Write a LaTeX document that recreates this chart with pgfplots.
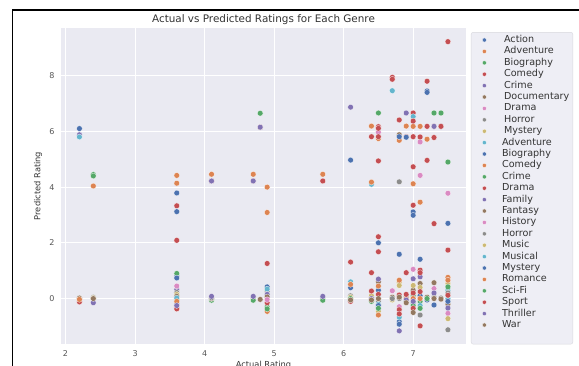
\documentclass[border=0pt]{standalone}
\usepackage{pgfplots}
\pgfplotsset{compat=1.18}
\usepackage{fontspec}
\setmainfont{DejaVu Sans}
\definecolor{c0}{HTML}{4C72B0}
\definecolor{c1}{HTML}{DD8452}
\definecolor{c2}{HTML}{55A868}
\definecolor{c3}{HTML}{C44E52}
\definecolor{c4}{HTML}{8172B3}
\definecolor{c5}{HTML}{937860}
\definecolor{c6}{HTML}{DA8BC3}
\definecolor{c7}{HTML}{8C8C8C}
\definecolor{c8}{HTML}{CCB974}
\definecolor{c9}{HTML}{64B5CD}
\definecolor{axbg}{HTML}{EAEAF2}
\definecolor{legfill}{HTML}{EEEEF5}
\definecolor{legedge}{HTML}{D8D8DE}
\definecolor{tickc}{HTML}{555555}
\definecolor{txtc}{HTML}{333333}
\pgfplotsset{gs/.style={only marks, mark=*, mark size=2.9pt, color=#1, mark options={draw=white, line width=0.25pt, fill=#1}}}
\newcommand{\legfont}{\fontsize{9.6}{9.6}\selectfont}
\begin{document}
\begin{tikzpicture}
\useasboundingbox (0pt,0pt) rectangle (579pt,365pt);
\begin{axis}[
  at={(61pt,21pt)}, anchor=south west,
  scale only axis, width=405pt, height=316pt,
  xmin=1.935, xmax=7.76, ymin=-1.63, ymax=9.71,
  xtick={2,3,4,5,6,7}, ytick={0,2,4,6,8},
  grid=major, grid style={white, line width=0.9pt},
  axis background/.style={fill=axbg},
  axis line style={draw=none}, tick style={draw=none},
  /pgf/number format/assume math mode=true,
  ticklabel style={font=\fontsize{8}{8}\selectfont, text=tickc},
  xticklabel style={yshift=-3pt},
  yticklabel style={xshift=-3pt},
  title={Actual vs Predicted Ratings for Each Genre},
  title style={at={(0.5,1)}, anchor=base, yshift=0pt, font=\fontsize{10.4}{10.4}\selectfont, text=txtc},
  xlabel={Actual Rating},
  xlabel style={at={(axis description cs:0.5,0)}, anchor=north, yshift=-13.5pt, font=\fontsize{8.3}{8.3}\selectfont, text=txtc},
  ylabel={Predicted Rating},
  ylabel style={at={(axis description cs:-0.0568,0.5)}, anchor=center, font=\fontsize{8.3}{8.3}\selectfont, text=txtc},
  legend style={at={(axis description cs:1.0123,0.987)}, anchor=north west,
    draw=legedge, fill=legfill, rounded corners=2pt,
    font=\legfont, text=txtc,
    row sep=0pt, inner xsep=2pt, inner ysep=2pt,
    nodes={font=\legfont, text height=7pt, text depth=2pt, inner ysep=1.2pt, inner xsep=1.5pt}},
  legend cell align=left,
  legend image code/.code={\path (-11pt,0pt) (16pt,0pt); \draw[#1, mark size=2.1pt] plot coordinates {(0pt,0pt)};},
]
% Action
\addplot[gs=c0] coordinates {(2.2,6.10)(3.6,3.79)(3.6,0.81)(4.9,0.42)(6.1,4.97)(6.5,2.00)(6.8,1.59)(7.0,3.11)(7.2,7.45)(7.5,2.70)};
\addlegendentry{\hspace*{2pt}Action}
% Adventure
\addplot[gs=c1] coordinates {(2.4,4.04)(3.6,4.42)(4.1,4.46)(4.7,4.46)(4.9,4.00)(5.7,4.46)(6.4,6.19)(6.9,6.19)(7.0,6.18)(7.1,6.18)};
\addlegendentry{\hspace*{2pt}Adventure}
% Biography
\addplot[gs=c2] coordinates {(2.4,4.45)(3.6,0.90)(4.8,6.65)(6.5,6.66)(7.3,6.66)(7.4,6.66)(7.5,4.90)(4.1,-0.06)};
\addlegendentry{\hspace*{2pt}Biography}
% Comedy
\addplot[gs=c3] coordinates {(2.2,-0.12)(3.6,3.33)(4.1,4.22)(4.7,4.22)(4.8,6.15)(4.9,1.26)(5.7,4.22)(6.1,1.31)(6.4,5.81)(6.5,6.17)(6.7,7.94)(6.8,6.41)(7.0,6.66)(7.2,7.80)(7.5,9.22)(6.9,5.81)(7.3,6.18)};
\addlegendentry{\hspace*{2pt}Comedy}
% Crime
\addplot[gs=c4] coordinates {(2.2,5.88)(4.1,4.22)(4.7,4.22)(4.8,6.15)(6.1,6.87)(6.9,6.66)(7.3,6.18)(3.6,0.32)};
\addlegendentry{\hspace*{2pt}Crime}
% Documentary
\addplot[gs=c5] coordinates {(2.2,0.02)(4.1,0.0)(4.8,-0.03)(6.5,0.6)(6.8,5.88)(7.0,0.3)(7.3,0.57)(7.5,-0.2)};
\addlegendentry{\hspace*{2pt}Documentary}
% Drama
\addplot[gs=c6] coordinates {(3.6,0.45)(6.5,5.97)(7.0,1.05)(7.1,5.62)(7.5,3.78)(6.8,-0.29)};
\addlegendentry{\hspace*{2pt}Drama}
% Horror
\addplot[gs=c7] coordinates {(2.4,0.05)(3.6,0.22)(4.1,0.03)(4.7,0.02)(4.9,0.25)(5.7,0.02)(6.1,0.1)(6.4,0.05)(6.5,-0.1)};
\addlegendentry{\hspace*{2pt}Horror}
% Mystery
\addplot[gs=c8] coordinates {(2.4,0.02)(3.6,0.15)(6.1,0.05)(6.4,0.1)(6.5,-0.45)(6.7,-0.05)};
\addlegendentry{\hspace*{2pt}Mystery}
% Adventure (2)
\addplot[gs=c9] coordinates {(2.2,5.80)(4.9,0.34)(6.4,4.10)(6.7,7.46)(7.0,6.53)(7.5,0.3)};
\addlegendentry{Adventure}
% Biography (2)
\addplot[gs=c0] coordinates {(3.6,3.12)(3.6,-0.2)(6.1,0.39)(6.5,0.3)(6.8,-0.83)(6.9,5.79)(7.0,2.99)(7.1,1.41)(7.2,7.40)(7.4,6.18)};
\addlegendentry{Biography}
% Comedy (2)
\addplot[gs=c1] coordinates {(2.2,-0.03)(3.6,4.14)(4.9,3.09)(6.4,4.18)(6.5,5.74)(6.8,5.68)(7.0,4.12)(7.1,3.46)(7.2,5.72)(7.5,0.76)};
\addlegendentry{Comedy}
% Crime (2)
\addplot[gs=c2] coordinates {(2.4,4.40)(3.6,-0.05)(4.7,-0.06)(4.9,-0.3)(5.7,-0.06)(6.1,0.0)(6.9,0.05)(7.0,0.1)(7.1,-0.1)};
\addlegendentry{Crime}
% Drama (2)
\addplot[gs=c3] coordinates {(3.6,2.09)(3.6,-0.3)(4.9,-0.15)(6.1,-0.1)(6.4,0.93)(6.5,6.11)(6.5,4.94)(6.5,2.22)(6.7,7.87)(6.8,0.13)(7.0,6.37)(7.0,4.73)(7.0,3.35)(7.1,5.80)(7.1,1.02)(7.2,6.18)(7.3,5.78)(7.4,6.18)};
\addlegendentry{Drama}
% Family
\addplot[gs=c4] coordinates {(2.4,-0.15)(4.1,0.08)(4.7,0.08)(5.7,0.08)(4.9,0.15)(6.5,0.70)(7.0,0.71)(7.1,0.78)};
\addlegendentry{Family}
% Fantasy
\addplot[gs=c5] coordinates {(2.4,0.0)(3.6,0.08)(4.9,0.06)(6.1,-0.05)(6.7,0.05)(7.1,0.54)(7.2,0.05)};
\addlegendentry{Fantasy}
% History
\addplot[gs=c6] coordinates {(4.9,-0.04)(6.7,0.28)(7.1,4.42)(7.3,0.36)(7.5,-0.53)};
\addlegendentry{History}
% Horror (2)
\addplot[gs=c7] coordinates {(6.7,0.0)(6.8,4.19)(6.8,0.0)(7.1,-0.59)(7.2,-0.03)(7.3,0.05)(7.4,0.02)(7.5,0.2)(7.5,-1.12)};
\addlegendentry{Horror}
% Music
\addplot[gs=c8] coordinates {(6.8,0.58)(6.8,0.47)(7.0,0.47)(7.1,0.4)(7.5,0.54)(7.5,-0.72)};
\addlegendentry{Music}
% Musical
\addplot[gs=c9] coordinates {(3.6,0.02)(6.1,0.60)(6.5,-0.2)(6.8,-0.67)(7.1,-0.25)(7.5,0.0)};
\addlegendentry{Musical}
% Mystery (2)
\addplot[gs=c0] coordinates {(3.6,0.74)(6.5,-0.25)(6.8,5.81)(6.8,-0.92)(7.0,-0.15)(7.1,0.1)(7.2,-0.05)(7.3,-0.23)(7.5,-0.1)};
\addlegendentry{Mystery}
% Romance
\addplot[gs=c1] coordinates {(3.6,-0.1)(4.9,-0.46)(6.1,0.51)(6.5,0.45)(6.5,-0.59)(6.8,0.66)(6.9,0.0)(7.0,0.0)(7.1,0.0)(7.5,0.66)};
\addlegendentry{Romance}
% Sci-Fi
\addplot[gs=c2] coordinates {(4.9,-0.37)(6.4,-0.1)(6.5,-0.35)(6.9,-0.1)(7.0,-0.25)(7.1,-0.35)(7.2,0.0)(7.5,0.42)};
\addlegendentry{Sci-Fi}
% Sport
\addplot[gs=c3] coordinates {(3.6,-0.37)(6.4,0.27)(6.5,5.81)(6.5,1.68)(6.5,0.15)(6.8,-0.4)(6.8,-0.55)(6.9,0.93)(6.9,0.15)(7.0,5.81)(7.0,0.2)(7.0,-0.35)(7.1,0.93)(7.1,0.25)(7.1,-0.98)(7.2,4.96)(7.3,2.69)(7.5,1.74)(7.5,0.12)};
\addlegendentry{Sport}
% Thriller
\addplot[gs=c4] coordinates {(3.6,-0.25)(6.4,0.0)(6.8,-1.16)(6.9,-0.05)(7.0,-0.1)(7.3,0.2)(7.5,-0.34)};
\addlegendentry{Thriller}
% War
\addplot[gs=c5] coordinates {(6.4,-0.05)(6.5,0.0)(6.8,0.05)(6.9,-0.15)(7.0,-0.5)(7.3,0.0)(7.4,-0.02)};
\addlegendentry{War}
\addlegendimage{empty legend}
\addlegendentry{}
\end{axis}
\draw[line width=1.8pt] (12.5pt,-5pt) -- (12.5pt,354.7pt) -- (585pt,354.7pt);
\end{tikzpicture}
\end{document}
